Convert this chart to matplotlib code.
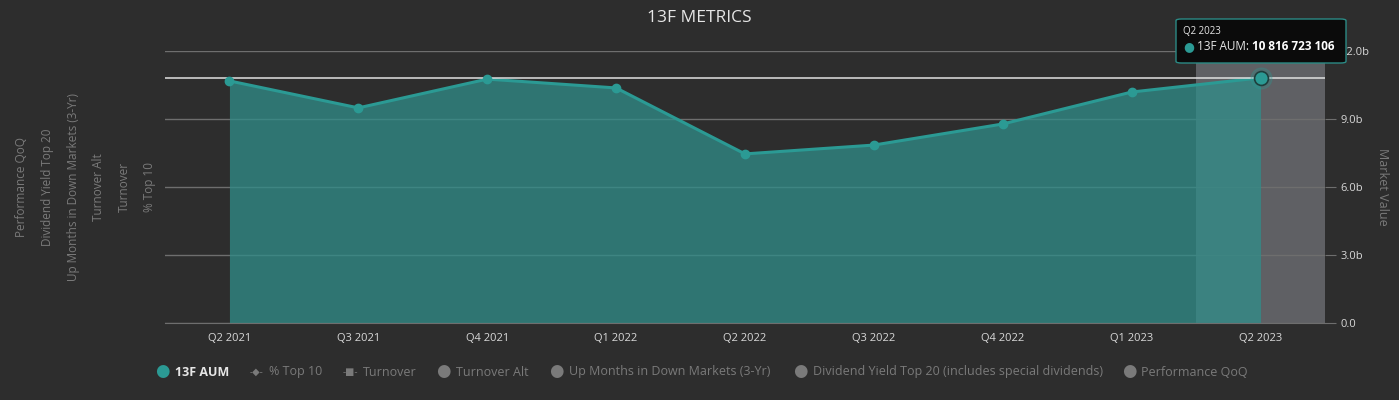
import matplotlib.pyplot as plt
from matplotlib.patches import FancyBboxPatch

plt.rcParams['font.family'] = ['Open Sans', 'DejaVu Sans']

quarters = ['Q2 2021', 'Q3 2021', 'Q4 2021', 'Q1 2022', 'Q2 2022',
            'Q3 2022', 'Q4 2022', 'Q1 2023', 'Q2 2023']
aum_b = [10.68, 9.49, 10.76, 10.37, 7.46, 7.85, 8.78, 10.19, 10.816723106]
y_ticks = [0, 3, 6, 9, 12]
y_tick_labels = ['0.0', '3.0b', '6.0b', '9.0b', '12.0b']
left_titles = ['Performance QoQ', 'Dividend Yield Top 20',
               'Up Months in Down Markets (3-Yr)', 'Turnover Alt',
               'Turnover', '% Top 10']
legend_items = ['13F AUM', '% Top 10', 'Turnover', 'Turnover Alt',
                'Up Months in Down Markets (3-Yr)',
                'Dividend Yield Top 20 (includes special dividends)',
                'Performance QoQ']

bg = '#2d2d2d'
teal = '#2b9a94'
fill = '#308d89'
grid = '#6e6e6e'
txt = '#d8d8d8'
dim = '#7a7a7a'

W, H = 1399, 400
fig = plt.figure(figsize=(W / 100, H / 100), dpi=100, facecolor=bg)
ax = fig.add_axes([165 / W, 1 - 323 / H, (1325 - 165) / W, (323 - 51) / H])
ax.set_facecolor(bg)

x = list(range(len(quarters)))
hover = len(quarters) - 1
ax.axvspan(hover - 0.5, hover + 0.5, color='#5f6064', zorder=0, lw=0)
ax.fill_between(x, aum_b, 0, color=fill, alpha=0.76, lw=0, zorder=2)
ax.plot(x, aum_b, color=teal, lw=2.2, zorder=3)
ax.plot(x[:-1], aum_b[:-1], 'o', color=teal, ms=6, zorder=4)
ax.plot(x[-1], aum_b[-1], 'o', color=teal, ms=15, alpha=0.25, zorder=4)
ax.plot(x[-1], aum_b[-1], 'o', color=teal, ms=10, mec='#1e3f3d', mew=1.2, zorder=5)
ax.axhline(aum_b[-1], color='#e0e0e0', lw=1.1, zorder=3.5)

ax.set_xlim(-0.5, len(quarters) - 0.5)
ax.set_ylim(0, 12)
ax.set_xticks(x)
ax.set_xticklabels(quarters, color=txt, fontsize=8)
ax.tick_params(axis='x', length=0, pad=7)
ax.yaxis.tick_right()
ax.set_yticks(y_ticks)
ax.set_yticklabels(y_tick_labels, color=txt, fontsize=8)
ax.tick_params(axis='y', length=8, color=grid, pad=3)
ax.grid(axis='y', color=grid, lw=1, zorder=1)
for s in ax.spines.values():
    s.set_visible(False)
ax.spines['bottom'].set_visible(True)
ax.spines['bottom'].set_color(grid)
ax.yaxis.set_label_position('right')
ax.set_ylabel('Market Value', color=dim, fontsize=9, rotation=270, labelpad=14)

fig.text(0.5, 1 - 18 / H, '13F METRICS', ha='center', va='center',
         color='#e6e6e6', fontsize=12.5)

for i, t in enumerate(left_titles):
    fig.text((22 + i * 25.6) / W, 1 - 187 / H, t, rotation=90, ha='center',
             va='center', color=dim, fontsize=8.5)

# tooltip
box = FancyBboxPatch((1176 / W, 1 - 63 / H), 170 / W, 44 / H,
                     boxstyle='round,pad=0,rounding_size=0.004',
                     transform=fig.transFigure, facecolor='#0b0b0b',
                     edgecolor='#2b8a85', lw=1, zorder=10)
fig.patches.append(box)
fig.text(1183 / W, 1 - 32 / H, 'Q2 2023', color='#e6e6e6', fontsize=7,
         va='center', zorder=11)
fig.text(1183 / W, 1 - 47 / H, '\u25cf', color=teal, fontsize=9,
         va='center', zorder=11)
fig.text(1197 / W, 1 - 47 / H, '13F AUM:', color='#e6e6e6', fontsize=8.5,
         va='center', zorder=11)
fig.text(1252 / W, 1 - 47 / H, '10 816 723 106', color='white', fontsize=8.5,
         fontweight='bold', va='center', zorder=11)

# legend
leg_y = 1 - 372 / H
icon_x = [162, 256, 350, 443, 556, 800, 1129]
text_x = [175, 269, 363, 456, 569, 813, 1141]
for i, name in enumerate(legend_items):
    if i == 0:
        fig.text(icon_x[i] / W, leg_y, '\u25cf', color=teal, fontsize=12,
                 ha='center', va='center')
        fig.text(text_x[i] / W, leg_y, name, color='#e6e6e6', fontsize=9,
                 fontweight='bold', va='center')
        continue
    if i == 1:
        fig.text(icon_x[i] / W, leg_y, '-\u25c6-', color=dim, fontsize=7,
                 ha='center', va='center')
    elif i == 2:
        fig.text(icon_x[i] / W, leg_y, '-\u25a0-', color=dim, fontsize=7,
                 ha='center', va='center')
    else:
        fig.text(icon_x[i] / W, leg_y, '\u25cf', color=dim, fontsize=12,
                 ha='center', va='center')
    fig.text(text_x[i] / W, leg_y, name, color=dim, fontsize=9, va='center')

fig.savefig('out.png', dpi=100, facecolor=bg)
